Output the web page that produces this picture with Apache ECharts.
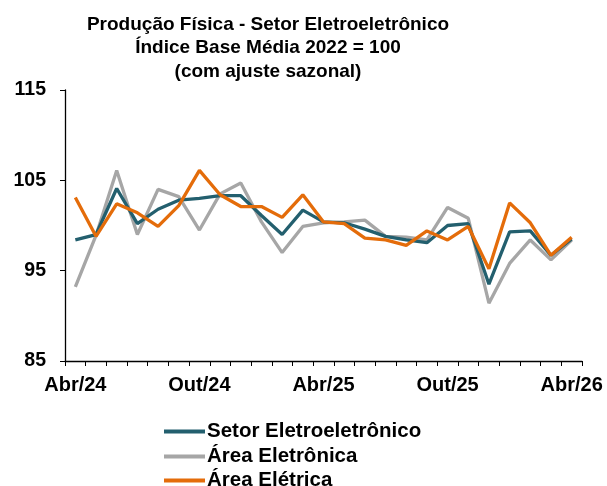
<!DOCTYPE html>
<html><head><meta charset="utf-8">
<script src="https://cdn.jsdelivr.net/npm/echarts@6/dist/echarts.min.js"></script>
<style>html,body{margin:0;padding:0;background:#fff}#c{width:607px;height:486px}</style>
</head><body><div id="c"></div>
<script>
const months = ['Abr/24','Mai/24','Jun/24','Jul/24','Ago/24','Set/24','Out/24','Nov/24','Dez/24','Jan/25','Fev/25','Mar/25','Abr/25','Mai/25','Jun/25','Jul/25','Ago/25','Set/25','Out/25','Nov/25','Dez/25','Jan/26','Fev/26','Mar/26','Abr/26'];
const setor = [98.4,99.0,104.1,100.2,101.8,102.8,103.0,103.3,103.3,101.1,99.0,101.7,100.4,100.3,99.6,98.8,98.4,98.1,100.0,100.2,93.5,99.3,99.4,96.7,98.5];
const eletronica = [93.2,98.9,106.1,99.0,104.0,103.2,99.5,103.5,104.7,100.4,97.0,99.9,100.3,100.4,100.6,98.8,98.7,98.4,102.0,100.8,91.4,95.8,98.4,96.2,98.4];
const eletrica = [103.1,98.8,102.4,101.4,99.9,102.2,106.1,103.4,102.1,102.1,100.9,103.4,100.4,100.2,98.6,98.4,97.8,99.4,98.4,99.9,95.2,102.5,100.3,96.7,98.7];
const yTicks = [85,95,105,115];
const shownLabels = ['Abr/24','Out/24','Abr/25','Out/25','Abr/26'];
const names = ['Setor Eletroeletrônico','Área Eletrônica','Área Elétrica'];
const colors = ['#235f6e','#a6a6a6','#e46c0a'];
const font = 'Liberation Sans, Arial, sans-serif';
const chart = echarts.init(document.getElementById('c'));
const legendTops = [421,446,470];
chart.setOption({
  animation:false,
  title:{text:'Produção Física - Setor Eletroeletrônico\nÍndice Base Média 2022 = 100\n(com ajuste sazonal)',left:263,top:8,textAlign:'center',
    textStyle:{fontFamily:font,fontWeight:'bold',fontSize:19,lineHeight:23.5,color:'#000'}},
  legend:names.map((n,i)=>({orient:'vertical',left:164,top:legendTops[i],padding:0,itemWidth:41,itemHeight:4,icon:'rect',itemGap:0,
    textStyle:{fontFamily:font,fontWeight:'bold',fontSize:20.5,color:'#000',padding:[0,0,0,-3]},
    data:[n]})),
  grid:{left:65,right:25,top:90,bottom:125,containLabel:false},
  xAxis:{type:'category',data:months,boundaryGap:true,
    axisLine:{lineStyle:{color:'#000',width:1.3}},
    axisTick:{show:true,interval:0,length:5,lineStyle:{color:'#000'}},
    axisLabel:{interval:0,formatter:v=>shownLabels.includes(v)?v:'',fontFamily:font,fontWeight:'bold',fontSize:20,color:'#000',margin:14}},
  yAxis:{type:'value',min:85,max:115,interval:10,
    axisLine:{show:true,lineStyle:{color:'#000',width:1.3}},
    axisTick:{show:true,length:5,lineStyle:{color:'#000'}},
    splitLine:{show:false},
    axisLabel:{fontFamily:font,fontWeight:'bold',fontSize:19.5,color:'#000',margin:19,formatter:v=>yTicks.includes(v)?String(v):''}},
  series:[setor,eletronica,eletrica].map((d,i)=>({name:names[i],type:'line',data:d,symbol:'none',z:[3,2,4][i],
    lineStyle:{color:colors[i],width:3.3},itemStyle:{color:colors[i]}}))
});
</script></body></html>
